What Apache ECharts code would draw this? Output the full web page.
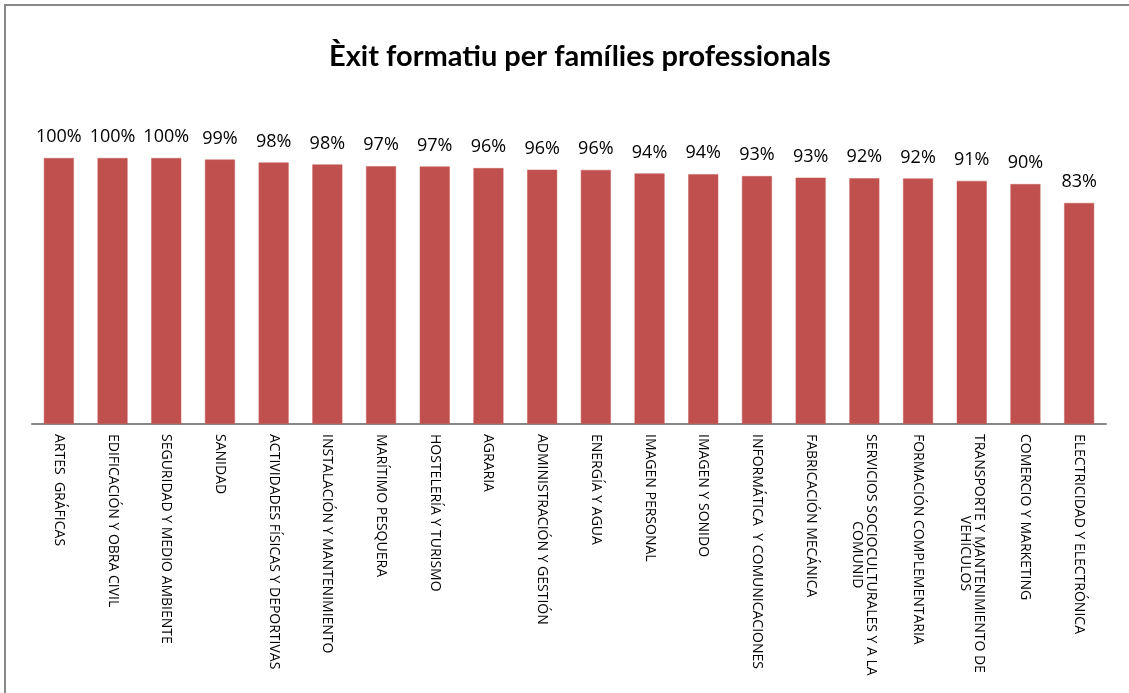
<!DOCTYPE html>
<html>
<head>
<meta charset="utf-8">
<script src="https://cdn.jsdelivr.net/npm/echarts@6/dist/echarts.min.js"></script>
<style>
  html, body { margin: 0; padding: 0; background: #fff; }
  #chart { width: 1129px; height: 693px; }
</style>
</head>
<body>
<div id="chart"></div>
<script>
// familias profesionales, ordenadas de mayor a menor
const families = [
  'ARTES  GRÁFICAS',
  'EDIFICACIÓN Y OBRA CIVIL',
  'SEGURIDAD Y MEDIO AMBIENTE',
  'SANIDAD',
  'ACTIVIDADES FÍSICAS Y DEPORTIVAS',
  'INSTALACIÓN Y MANTENIMIENTO',
  'MARÍTIMO PESQUERA',
  'HOSTELERÍA Y TURISMO',
  'AGRARIA',
  'ADMINISTRACIÓN Y GESTIÓN',
  'ENERGÍA Y AGUA',
  'IMAGEN PERSONAL',
  'IMAGEN Y SONIDO',
  'INFORMÁTICA  Y COMUNICACIONES',
  'FABRICACIÓN MECÁNICA',
  'SERVICIOS SOCIOCULTURALES Y A LA\nCOMUNID',
  'FORMACIÓN COMPLEMENTARIA',
  'TRANSPORTE Y MANTENIMIENTO DE\nVEHÍCULOS',
  'COMERCIO Y MARKETING',
  'ELECTRICIDAD Y ELECTRÓNICA'
];

// % èxit formatiu
const success = [
  100, 100, 100, 99.4, 98.3, 97.6, 96.9, 96.8, 96.2, 95.6,
  95.5, 94.2, 93.9, 93.2, 92.6, 92.4, 92.3, 91.4, 90.2, 83.1
];

const font = '"Open Sans", "Noto Sans", sans-serif';

let myChart = echarts.init(document.getElementById('chart'));

const option = {
  backgroundColor: '#fff',
  animation: false,
  title: {
    text: 'Èxit formatiu per famílies professionals',
    left: 324,
    top: 37,
    textStyle: {
      fontFamily: 'Lato, "Open Sans", sans-serif',
      fontSize: 29,
      fontWeight: 'bold',
      color: '#000'
    }
  },
  graphic: [{
    type: 'rect',
    shape: { x: 5, y: 5, width: 1200, height: 800 },
    style: { fill: 'none', stroke: '#888', lineWidth: 2 },
    silent: true
  }],
  grid: {
    left: 32,
    right: 23,
    top: 158,
    bottom: 269
  },
  xAxis: {
    type: 'category',
    data: families,
    axisLine: { lineStyle: { color: '#868686', width: 2 } },
    axisTick: { show: false },
    axisLabel: {
      interval: 0,
      rotate: -90,
      margin: 10,
      formatter: (value) => value.split('\n').map(l => '{c|' + l + '}').join('\n'),
      rich: {
        c: {
          align: 'center',
          fontFamily: font,
          fontSize: 14,
          lineHeight: 14,
          color: '#000'
        }
      }
    }
  },
  yAxis: {
    type: 'value',
    min: 0,
    max: 100,
    show: false,
    splitLine: { show: false }
  },
  series: [{
    type: 'bar',
    data: success,
    barWidth: 30,
    itemStyle: {
      color: '#C0504D',
      borderColor: '#c6605d',
      borderWidth: 0.5
    },
    label: {
      show: true,
      position: 'top',
      distance: 12,
      fontFamily: font,
      fontSize: 18,
      color: '#000',
      formatter: (p) => Math.round(p.value) + '%'
    }
  }]
};

myChart.setOption(option);
</script>
</body>
</html>
